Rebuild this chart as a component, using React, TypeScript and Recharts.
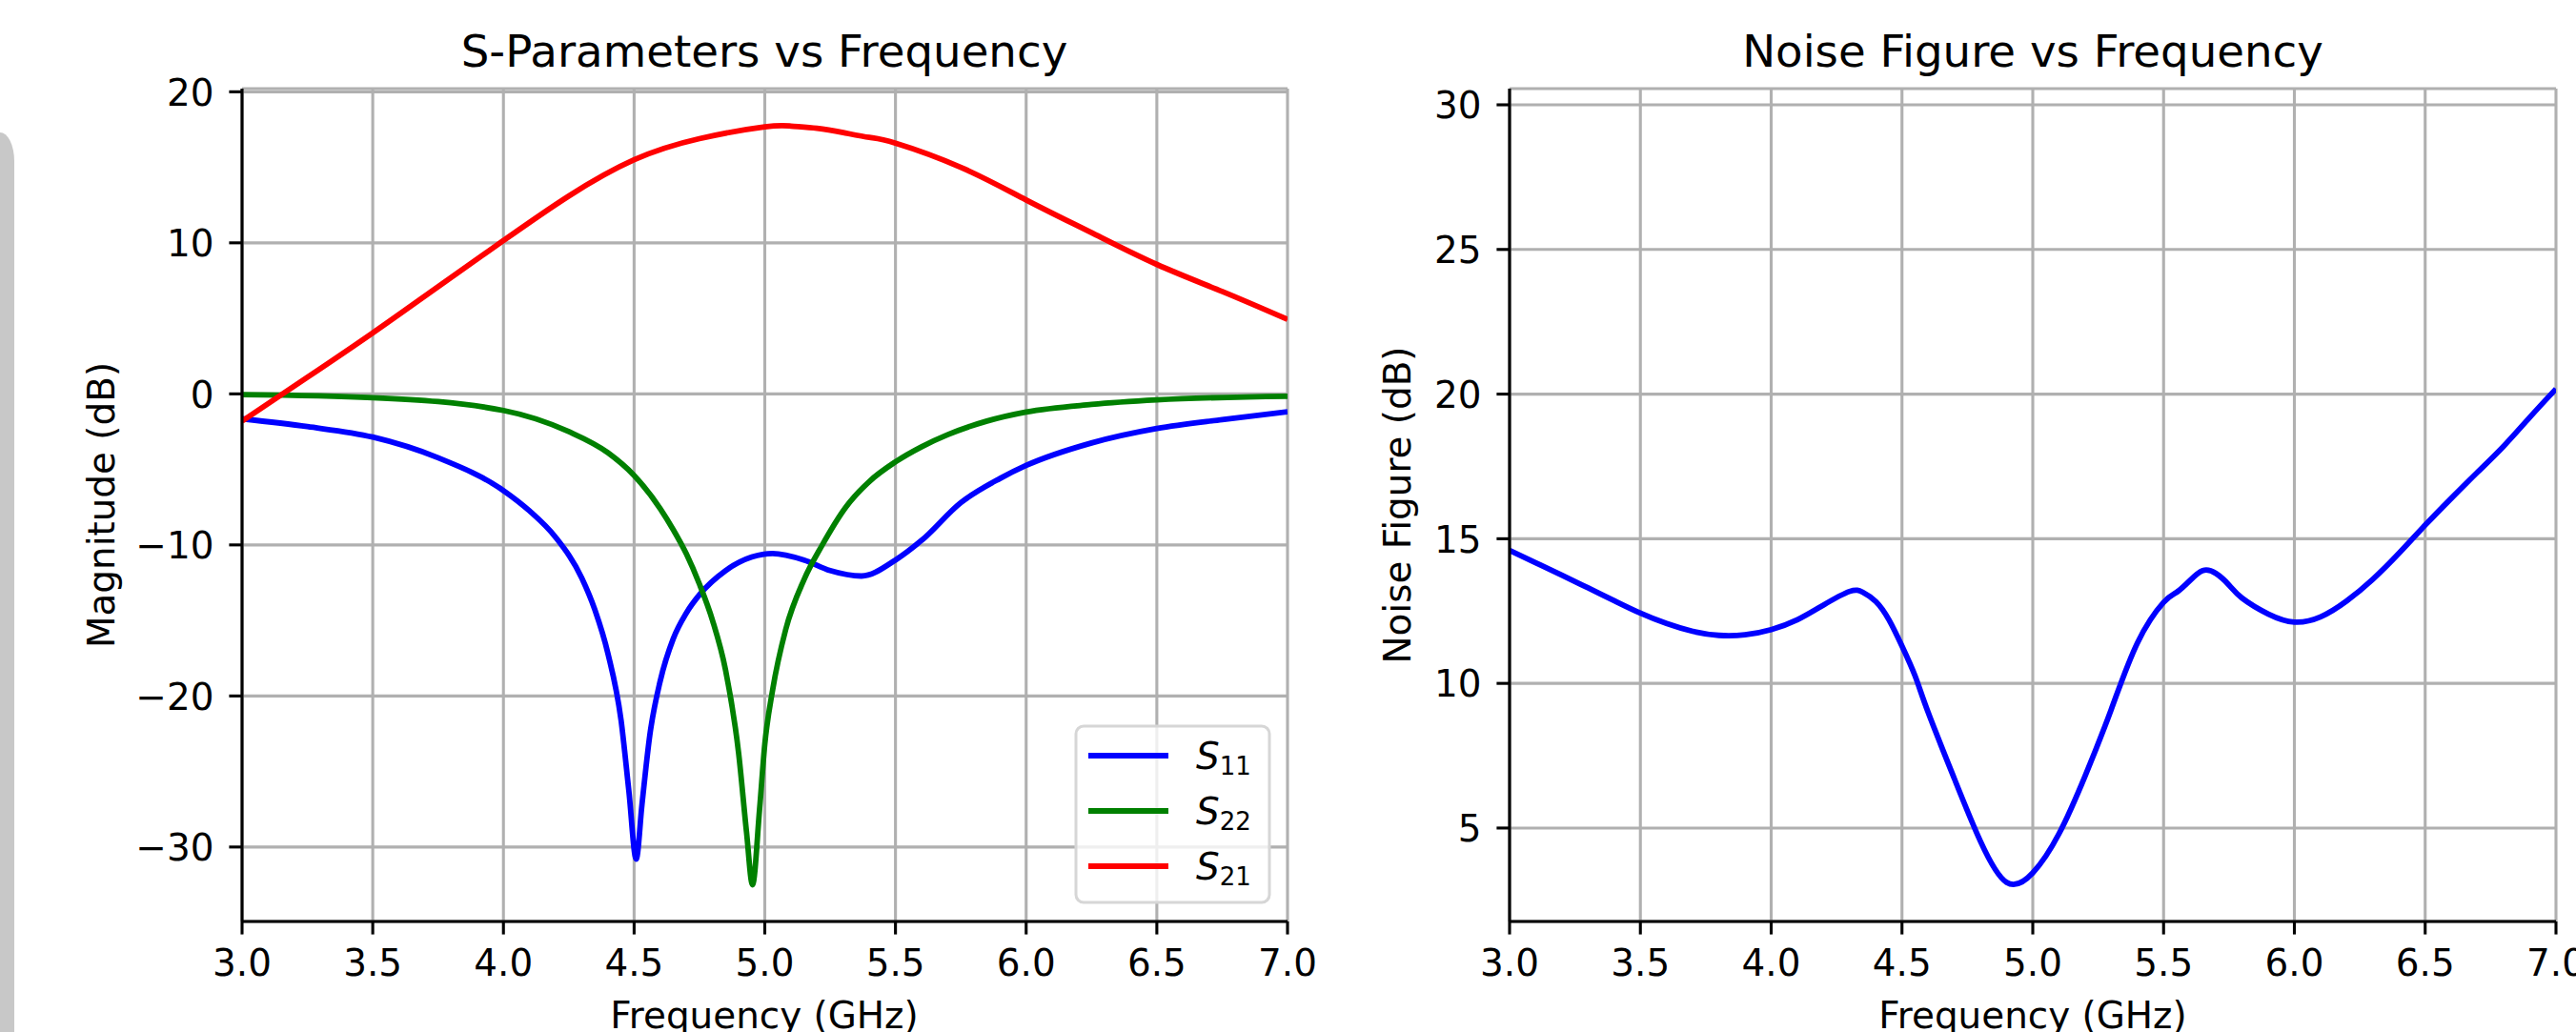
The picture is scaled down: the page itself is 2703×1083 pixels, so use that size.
import React from "react";
import {
  LineChart,
  Line,
  XAxis,
  YAxis,
  CartesianGrid,
} from "recharts";

// S-parameter curves (GHz / dB)
const s11Freq = [3.0, 3.25, 3.5, 3.75, 4.0, 4.1, 4.2, 4.3, 4.35, 4.4, 4.45, 4.48, 4.508, 4.53, 4.56, 4.6, 4.65, 4.7, 4.75, 4.85, 4.95, 5.03, 5.15, 5.25, 5.37, 5.5, 5.6, 5.75, 5.9, 6.0, 6.25, 6.5, 6.75, 7.0];
const s11Mag = [-1.65, -2.17, -2.86, -4.23, -6.4, -7.75, -9.5, -12.2, -14.3, -17.2, -21.6, -26.3, -30.8, -27.2, -22.6, -19.0, -16.2, -14.5, -13.3, -11.7, -10.8, -10.57, -11.0, -11.7, -12.06, -11.0, -9.7, -7.2, -5.6, -4.74, -3.25, -2.29, -1.7, -1.19];

const s22Freq = [3.0, 3.5, 4.0, 4.25, 4.4, 4.5, 4.6, 4.65, 4.7, 4.75, 4.8, 4.85, 4.9, 4.93, 4.953, 4.98, 5.0, 5.03, 5.08, 5.15, 5.22, 5.31, 5.4, 5.5, 5.6, 5.7, 5.85, 6.0, 6.25, 6.5, 7.0];
const s22Mag = [-0.05, -0.25, -1.1, -2.5, -3.9, -5.4, -7.6, -9.0, -10.6, -12.6, -15.0, -18.3, -23.8, -29.0, -32.5, -27.5, -23.2, -19.6, -15.6, -12.3, -10.0, -7.5, -5.8, -4.5, -3.5, -2.7, -1.8, -1.2, -0.7, -0.4, -0.16];

const s21Freq = [3.0, 3.25, 3.5, 3.75, 4.0, 4.25, 4.5, 4.75, 5.0, 5.1, 5.2, 5.3, 5.4, 5.5, 5.75, 6.0, 6.25, 6.5, 6.75, 7.0];
const s21Mag = [-1.8, 1.1, 4.04, 7.1, 10.15, 13.1, 15.5, 16.9, 17.68, 17.73, 17.58, 17.3, 16.98, 16.6, 15.0, 12.84, 10.67, 8.57, 6.78, 4.93];

// noise figure (GHz / dB)
const nfFreq = [3.0, 3.1, 3.2, 3.3, 3.4, 3.5, 3.6, 3.7, 3.8, 3.9, 4.0, 4.1, 4.2, 4.3, 4.35, 4.4, 4.45, 4.5, 4.55, 4.6, 4.7, 4.8, 4.9, 5.0, 5.1, 5.2, 5.3, 5.4, 5.5, 5.55, 5.6, 5.65, 5.7, 5.75, 5.8, 5.9, 6.0, 6.1, 6.2, 6.3, 6.4, 6.5, 6.6, 6.7, 6.8, 6.9, 7.0];
const nfValue = [14.6, 14.17, 13.74, 13.3, 12.86, 12.43, 12.07, 11.8, 11.66, 11.68, 11.86, 12.2, 12.71, 13.18, 13.15, 12.83, 12.2, 11.29, 10.26, 9.0, 6.71, 4.54, 3.12, 3.45, 4.8, 6.8, 9.1, 11.4, 12.8, 13.15, 13.55, 13.9, 13.8, 13.4, 12.95, 12.4, 12.12, 12.3, 12.85, 13.6, 14.5, 15.47, 16.4, 17.3, 18.2, 19.2, 20.18];

const freqTicks = [3.0, 3.5, 4.0, 4.5, 5.0, 5.5, 6.0, 6.5, 7.0];
const magTicks = [-30, -20, -10, 0, 10, 20];
const nfTicks = [5, 10, 15, 20, 25, 30];

const FONT = "DejaVu Sans, sans-serif";
const TICK_FS = 38.9;
const LW = 5.8;
const SPINE = 3.1;

function merge(series: [number[], number[], string][]) {
  const rows = new Map<number, any>();
  series.forEach(([fs, vs, key]) => {
    fs.forEach((f, i) => {
      const r = rows.get(f) ?? { f };
      r[key] = vs[i];
      rows.set(f, r);
    });
  });
  return [...rows.values()].sort((a, b) => a.f - b.f);
}

const sparamData = merge([
  [s11Freq, s11Mag, "s11"],
  [s22Freq, s22Mag, "s22"],
  [s21Freq, s21Mag, "s21"],
]);
const nfData = merge([[nfFreq, nfValue, "nf"]]);

const fmtNum = (v: number) => (v < 0 ? `\u2212${Math.abs(v)}` : `${v}`);

const XTick = (props: any) => {
  const { x, y, payload } = props;
  return (
    <text x={x} y={y + 30} textAnchor="middle" fontSize={TICK_FS} fontFamily={FONT} fill="#000">
      {Number(payload.value).toFixed(1)}
    </text>
  );
};

const YTick = (props: any) => {
  const { x, y, payload } = props;
  return (
    <text x={x} y={y + 14.2} textAnchor="end" fontSize={TICK_FS} fontFamily={FONT} fill="#000">
      {fmtNum(payload.value)}
    </text>
  );
};

const axisStroke = { stroke: "#000", strokeWidth: SPINE };

function SParamChart() {
  return (
    <LineChart
      width={1400}
      height={1083}
      data={sparamData}
      margin={{ top: 93, right: 49, bottom: 0, left: 0 }}
    >
      <CartesianGrid stroke="#b0b0b0" strokeWidth={SPINE} />
      <XAxis
        dataKey="f"
        type="number"
        domain={[3, 7]}
        ticks={freqTicks}
        allowDataOverflow
        height={116}
        tickSize={13.6}
        tickMargin={13.6}
        tick={<XTick />}
        tickLine={axisStroke}
        axisLine={axisStroke}
      />
      {/* top / right spines */}
      <XAxis xAxisId="top" orientation="top" type="number" domain={[3, 7]} height={0} tick={false} tickLine={false} axisLine={axisStroke} />
      <YAxis
        type="number"
        domain={[-34.93, 20.21]}
        ticks={magTicks}
        allowDataOverflow
        width={254}
        tickSize={13.6}
        tickMargin={16}
        tick={<YTick />}
        tickLine={axisStroke}
        axisLine={axisStroke}
      />
      <YAxis yAxisId="right" orientation="right" type="number" domain={[0, 1]} width={0} tick={false} tickLine={false} axisLine={axisStroke} />
      <Line type="monotone" dataKey="s11" stroke="#0000ff" strokeWidth={LW} dot={false} activeDot={false} connectNulls isAnimationActive={false} />
      <Line type="monotone" dataKey="s22" stroke="#008000" strokeWidth={LW} dot={false} activeDot={false} connectNulls isAnimationActive={false} />
      <Line type="natural" dataKey="s21" stroke="#ff0000" strokeWidth={LW} dot={false} activeDot={false} connectNulls isAnimationActive={false} />
    </LineChart>
  );
}

function NoiseChart() {
  return (
    <LineChart
      width={1303}
      height={1083}
      data={nfData}
      margin={{ top: 93, right: 21, bottom: 0, left: 0 }}
    >
      <CartesianGrid stroke="#b0b0b0" strokeWidth={SPINE} />
      <XAxis
        dataKey="f"
        type="number"
        domain={[3, 7]}
        ticks={freqTicks}
        allowDataOverflow
        height={116}
        tickSize={13.6}
        tickMargin={13.6}
        tick={<XTick />}
        tickLine={axisStroke}
        axisLine={axisStroke}
      />
      <XAxis xAxisId="top" orientation="top" type="number" domain={[3, 7]} height={0} tick={false} tickLine={false} axisLine={axisStroke} />
      <YAxis
        type="number"
        domain={[1.77, 30.56]}
        ticks={nfTicks}
        allowDataOverflow
        width={184}
        tickSize={13.6}
        tickMargin={16}
        tick={<YTick />}
        tickLine={axisStroke}
        axisLine={axisStroke}
      />
      <YAxis yAxisId="right" orientation="right" type="number" domain={[0, 1]} width={0} tick={false} tickLine={false} axisLine={axisStroke} />
      <Line type="natural" dataKey="nf" stroke="#0000ff" strokeWidth={LW} dot={false} activeDot={false} connectNulls isAnimationActive={false} />
    </LineChart>
  );
}

const legendItems = [
  { label: "11", color: "#0000ff" },
  { label: "22", color: "#008000" },
  { label: "21", color: "#ff0000" },
];

function Overlay() {
  const t = { fontFamily: FONT, fill: "#000" } as const;
  return (
    <svg
      width={2703}
      height={1083}
      style={{ position: "absolute", left: 0, top: 0, pointerEvents: "none" }}
    >
      <text x={802} y={70} textAnchor="middle" fontSize={46.7} {...t}>S-Parameters vs Frequency</text>
      <text x={2133} y={70} textAnchor="middle" fontSize={46.7} {...t}>Noise Figure vs Frequency</text>
      <text x={802} y={1079} textAnchor="middle" fontSize={TICK_FS} {...t}>Frequency (GHz)</text>
      <text x={2133} y={1079} textAnchor="middle" fontSize={TICK_FS} {...t}>Frequency (GHz)</text>
      <text x={120} y={530} textAnchor="middle" fontSize={TICK_FS} transform="rotate(-90 120 530)" {...t}>Magnitude (dB)</text>
      <text x={1480} y={530} textAnchor="middle" fontSize={TICK_FS} transform="rotate(-90 1480 530)" {...t}>Noise Figure (dB)</text>

      <rect x={1129} y={762} width={203} height={185} rx={8} ry={8} fill="rgba(255,255,255,0.8)" stroke="#d6d6d6" strokeWidth={3} />
      {legendItems.map((it, i) => {
        const cy = 793 + i * 58;
        return (
          <g key={it.label}>
            <line x1={1142} x2={1226} y1={cy} y2={cy} stroke={it.color} strokeWidth={LW} />
            <text x={1255} y={cy + 14} fontSize={TICK_FS} {...t}>
              <tspan fontStyle="italic">S</tspan>
              <tspan fontSize={26} dy={6}>{it.label}</tspan>
            </text>
          </g>
        );
      })}
    </svg>
  );
}

export default function App() {
  return (
    <div
      style={{
        position: "absolute",
        left: 0,
        top: 0,
        width: 2703,
        height: 1083,
        background: "#fff",
        overflow: "hidden",
      }}
    >
      <div
        style={{
          position: "absolute",
          left: 0,
          top: 139,
          width: 15,
          height: 944,
          background: "#c8c8c8",
          borderTopRightRadius: "15px 30px",
        }}
      />
      <div style={{ position: "absolute", left: 0, top: 0 }}>
        <SParamChart />
      </div>
      <div style={{ position: "absolute", left: 1400, top: 0 }}>
        <NoiseChart />
      </div>
      <Overlay />
    </div>
  );
}
